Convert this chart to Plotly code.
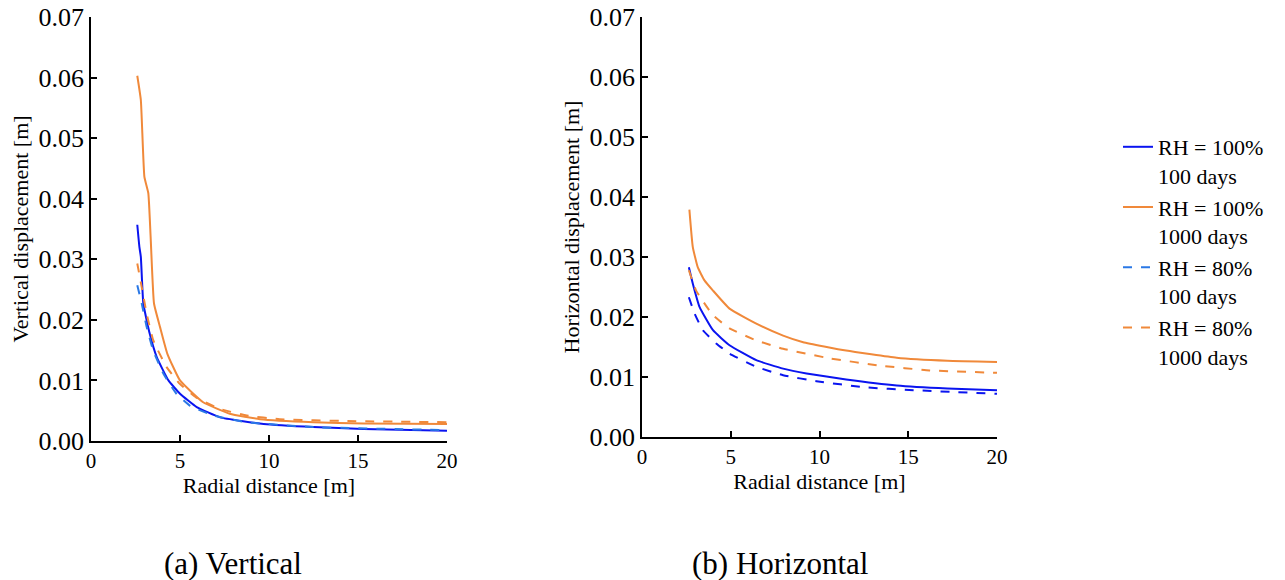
import plotly.graph_objects as go

# ---- Data ----
# (a) Vertical displacement [m]
v_rh100_100_x = [2.6, 2.72, 2.8, 2.94, 3.3, 3.7, 4.35, 5.0, 5.94, 7.25, 9.7, 12.5, 15.3, 20.0]
v_rh100_100_y = [0.0357, 0.032, 0.0304, 0.0227, 0.0177, 0.0138, 0.0100, 0.0078, 0.0056, 0.0039, 0.0028, 0.0023, 0.0020, 0.0017]

v_rh100_1000_x = [2.6, 2.8, 3.0, 3.22, 3.35, 3.54, 3.88, 4.29, 5.0, 6.3, 7.8, 9.5, 12.5, 15.3, 20.0]
v_rh100_1000_y = [0.0603, 0.0563, 0.0436, 0.0409, 0.0337, 0.0227, 0.0188, 0.0144, 0.0100, 0.0064, 0.0045, 0.0036, 0.0031, 0.0029, 0.0028]

v_rh80_100_x = [2.6, 2.85, 3.13, 3.5, 4.07, 4.8, 5.57, 6.9, 8.75, 12.5, 20.0]
v_rh80_100_y = [0.0257, 0.0227, 0.0188, 0.0149, 0.0111, 0.0078, 0.0058, 0.0042, 0.0031, 0.0023, 0.0018]

v_rh80_1000_x = [2.6, 2.85, 3.13, 3.5, 4.25, 5.0, 5.9, 7.25, 8.75, 10.6, 14.4, 20.0]
v_rh80_1000_y = [0.0293, 0.0254, 0.0210, 0.0166, 0.0122, 0.0094, 0.0072, 0.0053, 0.0042, 0.0036, 0.0033, 0.0031]

# (b) Horizontal displacement [m]
h_rh100_100_x = [2.64, 2.86, 3.24, 4.0, 4.93, 6.44, 7.95, 9.27, 11.5, 14.35, 17.2, 20.0]
h_rh100_100_y = [0.0283, 0.0256, 0.0217, 0.0178, 0.0153, 0.0128, 0.0114, 0.0106, 0.0096, 0.0086, 0.0081, 0.0078]

h_rh100_1000_x = [2.67, 2.86, 3.14, 3.52, 4.0, 4.93, 6.44, 7.95, 9.08, 11.5, 14.35, 17.2, 20.0]
h_rh100_1000_y = [0.0379, 0.0317, 0.0283, 0.0261, 0.0244, 0.0214, 0.0189, 0.0169, 0.0158, 0.0144, 0.0132, 0.0127, 0.0125]

h_rh80_100_x = [2.64, 2.96, 3.43, 4.18, 4.93, 6.44, 7.95, 9.83, 12.5, 15.3, 20.0]
h_rh80_100_y = [0.0233, 0.0206, 0.0178, 0.0156, 0.0139, 0.0117, 0.0103, 0.0093, 0.0083, 0.0078, 0.0072]

h_rh80_1000_x = [2.64, 3.05, 4.0, 4.93, 6.44, 7.95, 10.6, 13.4, 16.2, 20.0]
h_rh80_1000_y = [0.0278, 0.0244, 0.0203, 0.0181, 0.0161, 0.0147, 0.0131, 0.0119, 0.0111, 0.0107]

legend_names = ["RH = 100%<br>100 days", "RH = 100%<br>1000 days",
                "RH = 80%<br>100 days", "RH = 80%<br>1000 days"]
x_ticks = [0, 5, 10, 15, 20]
y_ticks = [0.00, 0.01, 0.02, 0.03, 0.04, 0.05, 0.06, 0.07]

BLUE = "#0a14f0"
LBLUE = "#2a78e6"
ORANGE = "#f0893a"
FONT = "Liberation Serif"

fig = go.Figure()

def add(x, y, name, color, dash, xa, ya, show):
    fig.add_trace(go.Scatter(x=x, y=y, mode="lines", name=name, showlegend=show,
                             line=dict(color=color, width=2, dash=dash, shape="spline", smoothing=0.4),
                             xaxis=xa, yaxis=ya))

add(v_rh100_100_x, v_rh100_100_y, legend_names[0], BLUE, "solid", "x", "y", True)
add(v_rh100_1000_x, v_rh100_1000_y, legend_names[1], ORANGE, "solid", "x", "y", True)
add(v_rh80_100_x, v_rh80_100_y, legend_names[2], LBLUE, "dash", "x", "y", True)
add(v_rh80_1000_x, v_rh80_1000_y, legend_names[3], ORANGE, "dash", "x", "y", True)

add(h_rh100_100_x, h_rh100_100_y, legend_names[0], BLUE, "solid", "x2", "y2", False)
add(h_rh100_1000_x, h_rh100_1000_y, legend_names[1], ORANGE, "solid", "x2", "y2", False)
add(h_rh80_100_x, h_rh80_100_y, legend_names[2], BLUE, "dash", "x2", "y2", False)
add(h_rh80_1000_x, h_rh80_1000_y, legend_names[3], ORANGE, "dash", "x2", "y2", False)

W, H = 1285, 580

def fx(px):
    return px / W

def fy(py):
    return (H - py) / H

axis_common = dict(showline=True, linecolor="black", linewidth=1.5, ticks="inside",
                   ticklen=6, tickcolor="black", tickwidth=1.5, showgrid=False, zeroline=False,
                   automargin=False, ticklabeloverflow="allow",
                   title_font=dict(family=FONT, size=22, color="black"))
xfont = dict(family=FONT, size=21, color="black")
yfont = dict(family=FONT, size=26, color="black")

fig.update_layout(
    width=W, height=H,
    margin=dict(l=0, r=0, t=0, b=0),
    paper_bgcolor="white", plot_bgcolor="white",
    font=dict(family=FONT, color="black"),
    xaxis=dict(domain=[fx(91), fx(447)], range=[0, 20], tickvals=x_ticks, anchor="y",
               tickfont=xfont, title=dict(text="Radial distance [m]", standoff=6), **axis_common),
    yaxis=dict(domain=[fy(441), fy(17)], range=[0, 0.07], tickvals=y_ticks,
               tickformat=".2f", anchor="x", tickfont=yfont,
               title=dict(text="Vertical displacement [m]", standoff=4), **axis_common),
    xaxis2=dict(domain=[fx(642), fx(997)], range=[0, 20], tickvals=x_ticks, anchor="y2",
                tickfont=xfont, title=dict(text="Radial distance [m]", standoff=6), **axis_common),
    yaxis2=dict(domain=[fy(437), fy(17)], range=[0, 0.07], tickvals=y_ticks,
                tickformat=".2f", anchor="x2", tickfont=yfont,
                title=dict(text="Horizontal displacement [m]", standoff=4), **axis_common),
    legend=dict(x=fx(1118), y=fy(126), xanchor="left", yanchor="top",
                font=dict(family=FONT, size=22, color="black"), valign="top",
                bgcolor="rgba(0,0,0,0)", tracegroupgap=0),
    annotations=[
        dict(text="(a) Vertical", x=fx(233), y=fy(563), xref="paper", yref="paper",
             showarrow=False, font=dict(family=FONT, size=31, color="black"),
             xanchor="center", yanchor="middle"),
        dict(text="(b) Horizontal", x=fx(780), y=fy(563), xref="paper", yref="paper",
             showarrow=False, font=dict(family=FONT, size=31, color="black"),
             xanchor="center", yanchor="middle"),
    ],
)

fig.write_html("out.html",
               config={"displayModeBar": False},
               post_script="document.body.style.margin='0px';document.body.style.overflow='hidden';")
